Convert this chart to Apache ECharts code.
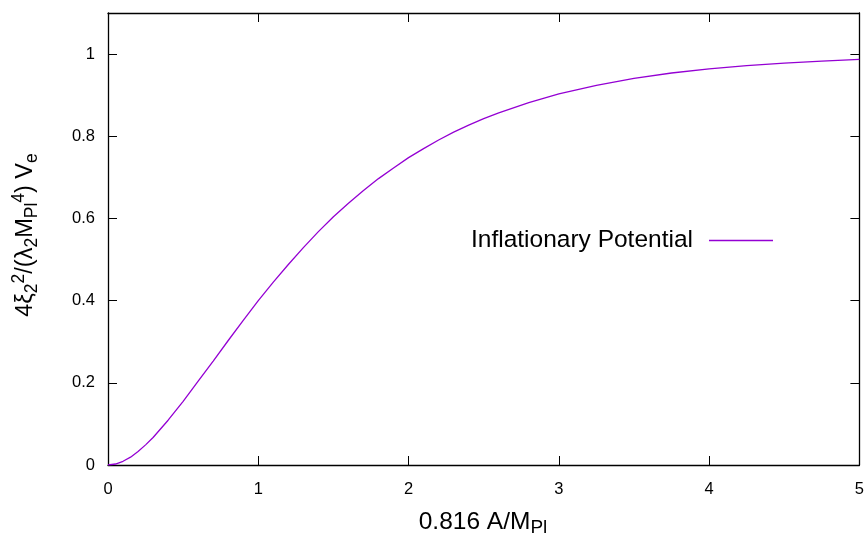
<!DOCTYPE html>
<html>
<head>
<meta charset="utf-8">
<script src="https://cdn.jsdelivr.net/npm/echarts@6/dist/echarts.min.js"></script>
<style>html,body{margin:0;padding:0;background:#fff}#c{width:867px;height:538px}</style>
</head>
<body>
<div id="c"></div>
<script>
// Values
const xValues = [0, 0.05, 0.1, 0.15, 0.2, 0.25, 0.3, 0.4, 0.5, 0.6, 0.7, 0.8, 0.9, 1.0, 1.1, 1.2, 1.3, 1.4, 1.5, 1.6, 1.7, 1.8, 1.9, 2.0, 2.1, 2.2, 2.3, 2.4, 2.5, 2.6, 2.8, 3.0, 3.25, 3.5, 3.75, 4.0, 4.25, 4.5, 4.75, 5.0];
const potential = [0, 0.0024, 0.009, 0.019, 0.033, 0.049, 0.067, 0.109, 0.155, 0.204, 0.253, 0.303, 0.352, 0.400, 0.445, 0.488, 0.529, 0.568, 0.604, 0.637, 0.668, 0.697, 0.723, 0.748, 0.770, 0.791, 0.810, 0.827, 0.843, 0.857, 0.882, 0.903, 0.924, 0.941, 0.954, 0.964, 0.972, 0.978, 0.983, 0.987];
const xTicks = [0, 1, 2, 3, 4, 5];
const yTicks = [0, 0.2, 0.4, 0.6, 0.8, 1];
const seriesName = 'Inflationary Potential';

const chart = echarts.init(document.getElementById('c'), null, {renderer: 'canvas'});
const FONT = '"Liberation Sans", Arial, Helvetica, sans-serif';
const PURPLE = '#9400d3';
const tickStyle = {show: true, inside: true, length: 9, lineStyle: {color: '#000', width: 1}};
const axisLine = {show: true, onZero: false, lineStyle: {color: '#000', width: 1.3}};

const option = {
  backgroundColor: '#fff',
  animation: false,
  grid: {left: 108, right: 6, top: 13, bottom: 73, containLabel: false},
  legend: {
    show: true,
    left: 466, top: 223,
    align: 'right',
    itemWidth: 64, itemHeight: 1.3,
    icon: 'rect',
    itemStyle: {color: PURPLE, borderWidth: 0},
    textStyle: {fontFamily: FONT, fontSize: 24.5, color: '#000', padding: [0, 11, 0, 0]},
    data: [seriesName]
  },
  xAxis: [{
    type: 'value', min: 0, max: 5, interval: 1, position: 'bottom',
    axisLine: axisLine, axisTick: tickStyle, splitLine: {show: false},
    axisLabel: {margin: 16, fontFamily: FONT, fontSize: 16.5, color: '#000',
      formatter: v => xTicks.includes(v) ? String(v) : ''}
  }, {
    type: 'value', min: 0, max: 5, interval: 1, position: 'top',
    axisLine: axisLine, axisTick: tickStyle, splitLine: {show: false},
    axisLabel: {show: false}
  }],
  yAxis: [{
    type: 'value', min: 0, max: 1.1, interval: 0.2, position: 'left',
    axisLine: axisLine, axisTick: tickStyle, splitLine: {show: false},
    axisLabel: {margin: 13, fontFamily: FONT, fontSize: 16.5, color: '#000',
      formatter: v => {
        const r = Math.round(v * 10) / 10;
        return yTicks.includes(r) && Math.abs(v - r) < 1e-6 ? String(r) : '';
      }}
  }, {
    type: 'value', min: 0, max: 1.1, interval: 0.2, position: 'right',
    axisLine: axisLine, axisTick: tickStyle, splitLine: {show: false},
    axisLabel: {show: false}
  }],
  series: [{
    name: seriesName,
    type: 'line',
    xAxisIndex: 0, yAxisIndex: 0,
    data: xValues.map((x, i) => [x, potential[i]]),
    smooth: false,
    showSymbol: false,
    symbol: 'none',
    lineStyle: {color: PURPLE, width: 1.3},
    itemStyle: {color: PURPLE}
  }],
  graphic: [{
    type: 'text',
    x: 26, y: 235,
    rotation: Math.PI / 2,
    style: {
      text: '{m|4ξ}{sb|2}{sp|2}{m|/(λ}{sb|2}{m|M}{sb|Pl}{sp|4}{m|) V}{sb|e}',
      align: 'center', verticalAlign: 'middle',
      fill: '#000',
      rich: {
        m: {fontFamily: FONT, fontSize: 23.5, fill: '#000', lineHeight: 32},
        sb: {fontFamily: FONT, fontSize: 17.5, fill: '#000', padding: [12, 0, 0, 0]},
        sp: {fontFamily: FONT, fontSize: 17.5, fill: '#000', padding: [0, 0, 14, 0]}
      }
    }
  }, {
    type: 'text',
    x: 483, y: 522,
    style: {
      text: '{m|0.816 A/M}{sb|Pl}',
      align: 'center', verticalAlign: 'middle',
      fill: '#000',
      rich: {
        m: {fontFamily: FONT, fontSize: 24.5, fill: '#000', lineHeight: 32},
        sb: {fontFamily: FONT, fontSize: 19, fill: '#000', padding: [12, 0, 0, 0]}
      }
    }
  }]
};
chart.setOption(option);
</script>
</body>
</html>
